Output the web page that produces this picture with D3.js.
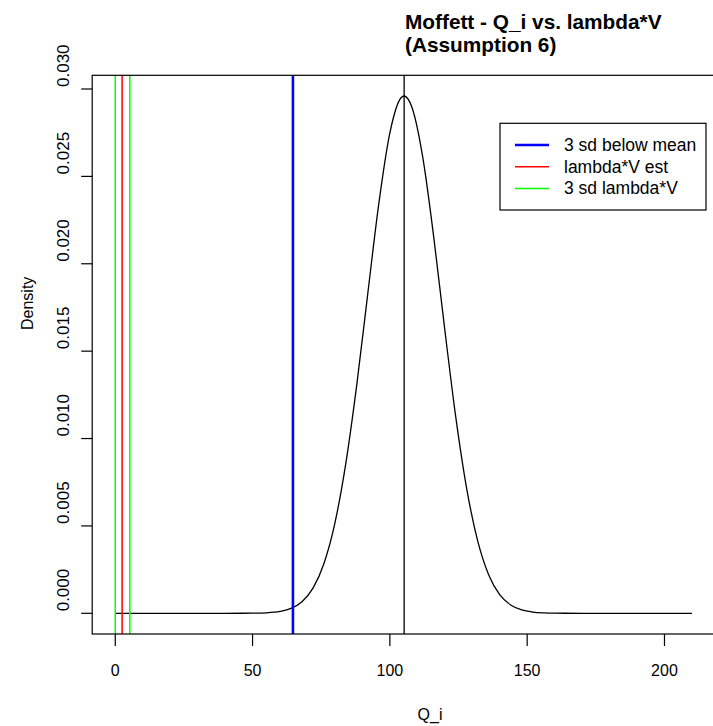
<!DOCTYPE html>
<html><head><meta charset="utf-8">
<script src="https://cdn.jsdelivr.net/npm/d3@7/dist/d3.min.js"></script>
<style>body{margin:0;background:#fff}svg{display:block;font-family:"Liberation Sans",Arial,sans-serif}</style>
</head><body><svg id="c" width="713" height="726"></svg>
<script>
// Density curve
const curveX = [0, 40, 50, 55, 60, 64, 68, 72, 76, 80, 84, 88, 92, 96, 100, 104, 105.2, 108, 112, 116, 120, 124, 128, 132, 136, 140, 144, 148, 152, 156, 160, 170, 210];
const curveY = [0, 0.0000003, 0.0000069, 0.000029, 0.000109, 0.000281, 0.000664, 0.001439, 0.002854, 0.005180, 0.008625, 0.013146, 0.018352, 0.023467, 0.027484, 0.029484, 0.0296, 0.028970, 0.026072, 0.021493, 0.016230, 0.011225, 0.007110, 0.004126, 0.002193, 0.001067, 0.000476, 0.000194, 0.000073, 0.000025, 0.0000078, 0, 0];
const meanLine = 105.2;
const sdLine = 64.7;
const lambdaEst = 2.5;
const lambdaSd = [0.0, 5.3];
const xTicks = [0, 50, 100, 150, 200];
const yTicks = [0, 0.005, 0.010, 0.015, 0.020, 0.025, 0.030];
const legendLabels = ["3 sd below mean", "lambda*V est", "3 sd lambda*V"];
const legendColors = ["#0000ff", "#ff0000", "#00ff00"];
const titleLines = ["Moffett - Q_i vs. lambda*V", "(Assumption 6)"];

const svg = d3.select("#c");
const x = d3.scaleLinear().domain([-8.4, 218.4]).range([92.2, 715]);
const y = d3.scaleLinear().domain([-0.001184, 0.030784]).range([634, 75.3]);
const L = 92.2, R = 715, T = 75.3, B = 634;

// curve
const pts = curveX.map((v, i) => [v, curveY[i]]);
svg.append("path").datum(pts)
  .attr("d", d3.line().x(d => x(d[0])).y(d => y(d[1])).curve(d3.curveMonotoneX))
  .attr("fill", "none").attr("stroke", "#000").attr("stroke-width", 1.3);

// vertical lines
function vline(v, color, w) {
  svg.append("line").attr("x1", x(v)).attr("x2", x(v)).attr("y1", T).attr("y2", B)
    .attr("stroke", color).attr("stroke-width", w);
}
vline(meanLine, "#000", 1.3);
vline(sdLine, "#0000ff", 2.6);
vline(lambdaEst, "#ff0000", 1.5);
lambdaSd.forEach(v => vline(v, "#00ff00", 1.5));

// box
svg.append("rect").attr("x", L).attr("y", T).attr("width", R - L).attr("height", B - T)
  .attr("fill", "none").attr("stroke", "#000").attr("stroke-width", 1.2);

// x axis
const xa = svg.append("g");
xTicks.forEach(t => {
  xa.append("line").attr("x1", x(t)).attr("x2", x(t)).attr("y1", B).attr("y2", B + 12)
    .attr("stroke", "#000").attr("stroke-width", 1.2);
  xa.append("text").attr("x", x(t)).attr("y", 676).attr("text-anchor", "middle")
    .attr("font-size", 16).text(d3.format("d")(t));
});
svg.append("text").attr("x", 430).attr("y", 720).attr("text-anchor", "middle")
  .attr("font-size", 16).text("Q_i");

// y axis
const ya = svg.append("g");
yTicks.forEach(t => {
  ya.append("line").attr("x1", L).attr("x2", L - 11).attr("y1", y(t)).attr("y2", y(t))
    .attr("stroke", "#000").attr("stroke-width", 1.2);
  ya.append("text").attr("transform", `translate(69,${y(t) - 2}) rotate(-90)`)
    .attr("text-anchor", "start").attr("font-size", 17).text(d3.format(".3f")(t));
});
svg.append("text").attr("transform", `translate(33,${330}) rotate(-90)`)
  .attr("text-anchor", "start").attr("font-size", 16).text("Density");

// title
titleLines.forEach((s, i) => {
  svg.append("text").attr("x", 405).attr("y", 29 + i * 23).attr("font-size", 20.8)
    .attr("font-weight", "bold").text(s);
});

// legend
svg.append("rect").attr("x", 500).attr("y", 123.3).attr("width", 206).attr("height", 86.7)
  .attr("fill", "#fff").attr("stroke", "#000").attr("stroke-width", 1.2);
legendLabels.forEach((s, i) => {
  const yy = 145 + i * 21.7;
  svg.append("line").attr("x1", 515).attr("x2", 549).attr("y1", yy).attr("y2", yy)
    .attr("stroke", legendColors[i]).attr("stroke-width", i === 0 ? 2.6 : 1.5);
  svg.append("text").attr("x", 564).attr("y", yy + 6).attr("font-size", 17.5).text(s);
});
</script></body></html>
